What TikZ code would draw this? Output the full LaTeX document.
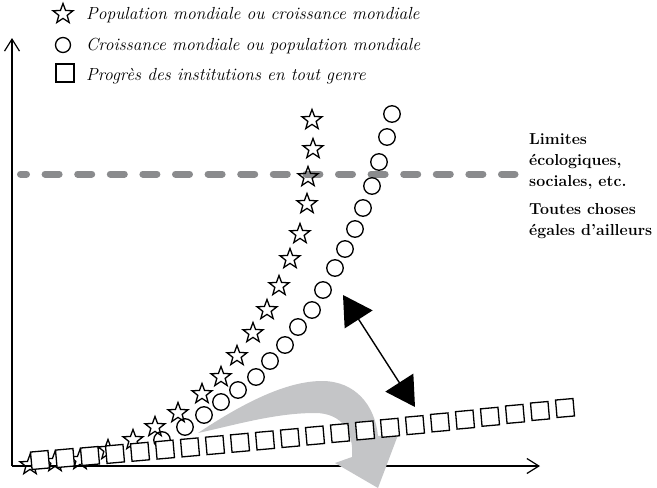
\documentclass[tikz,border=0pt]{standalone}
\usepackage{tikz}
\usetikzlibrary{arrows.meta,shapes.geometric}

\definecolor{bandgray}{RGB}{196,197,199}
\definecolor{limitgray}{RGB}{138,139,141}

\begin{document}
\begin{tikzpicture}[x=1pt,y=-1pt,
    starmark/.style={draw, star, star points=5, star point ratio=2.4,
        minimum size=21pt, inner sep=0pt, line width=1.3pt},
    ringmark/.style={draw, circle, minimum size=16.5pt, inner sep=0pt, line width=1.3pt},
    boxmark/.style={draw, fill=white, rectangle, minimum size=17.5pt, inner sep=0pt, line width=1.3pt},
    legendtext/.style={anchor=base west, inner sep=0pt, font=\fontsize{17.5}{21}\selectfont\itshape},
    sidetext/.style={anchor=base west, inner sep=0pt, align=left, font=\fontsize{15.9}{21}\selectfont\bfseries},
    axis/.style={line width=1.2pt, -{Straight Barb[length=12pt,width=15pt]}}
]
\useasboundingbox (0,0) rectangle (657,488);

% axes
\coordinate (origin) at (12,466);
\coordinate (ytip) at (12,38);
\coordinate (xtip) at (540,466);
\draw[axis] (origin) -- (ytip);
\draw[axis] (origin) -- (xtip);

% grey turning arrow
\fill[bandgray] (198,433) .. controls (240,405) and (285,381) .. (322,381)
    .. controls (355,381) and (375,405) .. (378,436) -- (398,435) -- (378,488)
    -- (335,463) -- (352,457) .. controls (354,432) and (342,413) .. (315,413)
    .. controls (275,413) and (235,425) .. (198,433) -- cycle;

% limits
\coordinate (limA) at (20.5,174);
\coordinate (limB) at (515,174);
\draw[limitgray, line width=7pt, line cap=round,
    dash pattern=on 14pt off 18.6pt, dash phase=8pt] (limA) -- (limB);

% stars
\foreach \x/\y [count=\k] in {30/465,55/462,80/460,108/450,133/440,155/427,
    178/413,202/394,221/377,237/356,253/333,267/310,279/286,290/259,
    300/234,307/204,308/177,313/149,312/120}
    \node[starmark] (s\k) at (\x,\y) {};

% circles
\foreach \x/\y [count=\k] in {162/440,185/427,204/415,221/402,238/390,256/377,
    270/361,285/345,298/327,312/310,323/290,335/268,345/249,355/229,
    363/208,372/186,379/162,387/137,392/114}
    \node[ringmark] (c\k) at (\x,\y) {};

% squares
\foreach \i in {0,...,21}
    \node[boxmark, rotate=5] (q\i) at ({40+25*\i},{460-1.949*\i-0.0251*\i*\i}) {};

% gap between the curves
\coordinate (gapTop) at (343,295);
\coordinate (gapBot) at (415,407);
\draw[line width=1.4pt, {Triangle[length=29pt,width=33pt]}-{Triangle[length=29pt,width=33pt]}]
    (gapTop) -- (gapBot);

% legend
\node[starmark] (legstar) at (63,14) {};
\node[legendtext] (legpop) at (86,19.5) {Population mondiale ou croissance mondiale};
\node[ringmark, minimum size=15pt] (legring) at (63,45) {};
\node[legendtext] (legcro) at (86,50) {Croissance mondiale ou population mondiale};
\node[boxmark, minimum size=18pt] (legbox) at (65,73) {};
\node[legendtext] (legpro) at (86,80) {Progrès des institutions en tout genre};

% side notes (base = last line)
\node[sidetext] (limits) at (529,186) {Limites\\écologiques,\\sociales, etc.};
\node[sidetext] (ceteris) at (529,235) {Toutes choses\\égales d'ailleurs};
\end{tikzpicture}
\end{document}
